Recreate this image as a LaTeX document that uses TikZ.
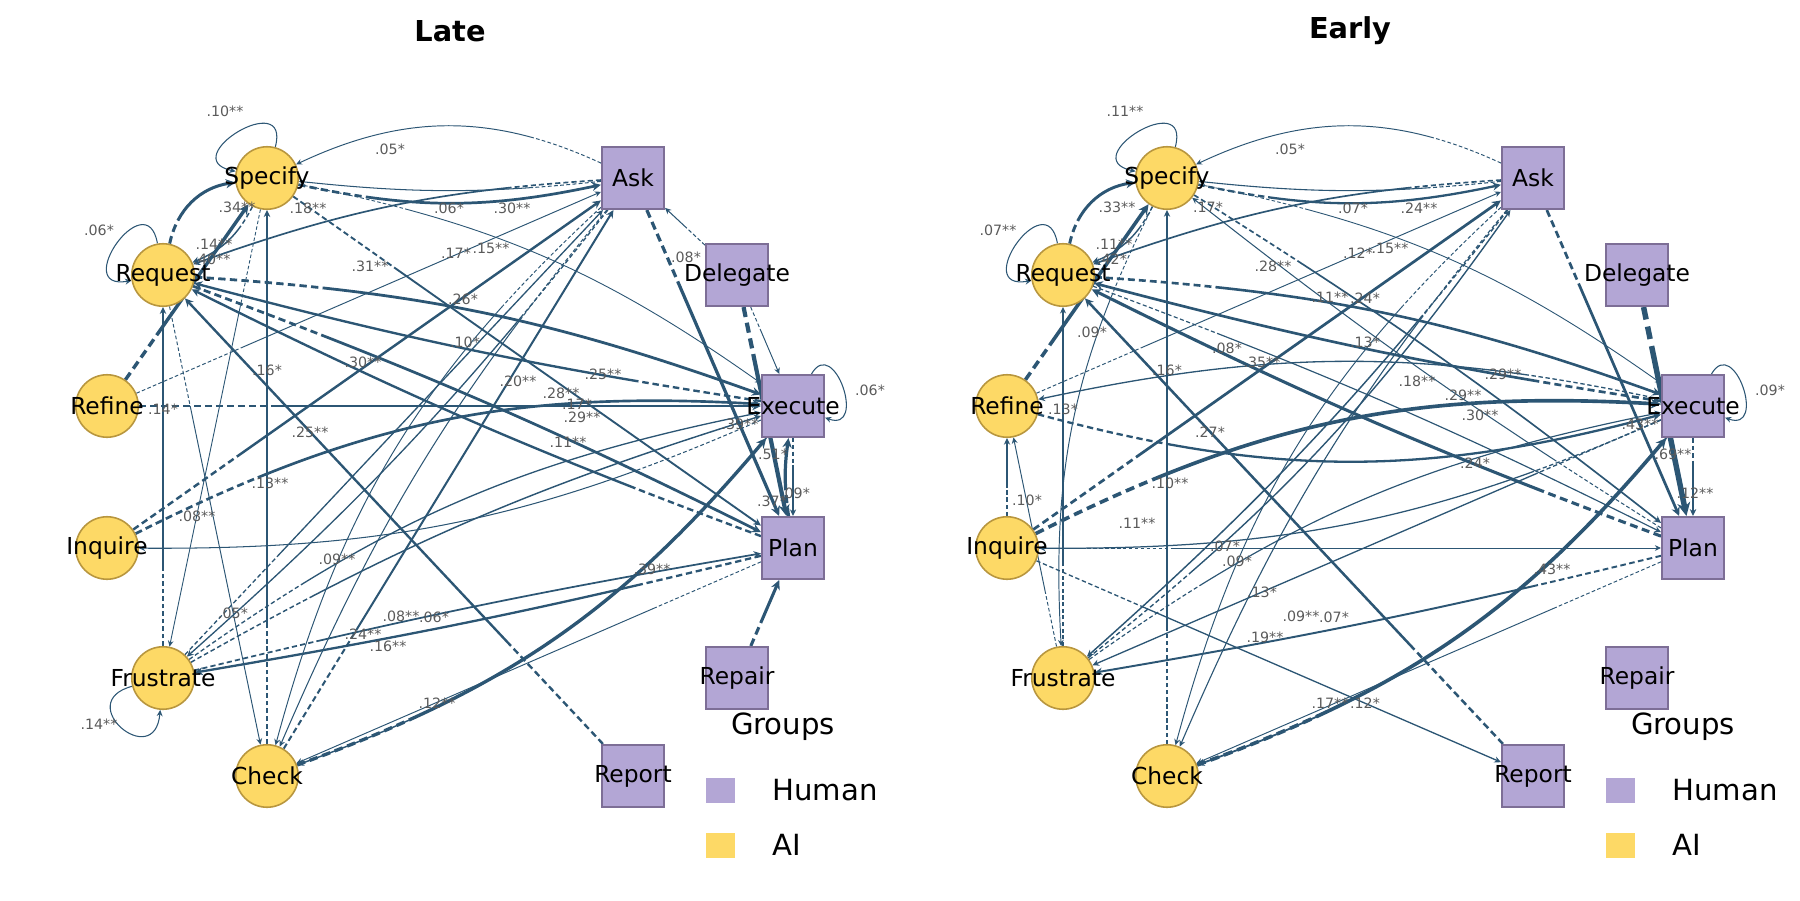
\documentclass[tikz,border=0pt]{standalone}
\usepackage{fontspec}
\setmainfont{DejaVu Sans}
\usetikzlibrary{arrows.meta,backgrounds}
\definecolor{ec}{RGB}{44,86,116}
\definecolor{aiF}{RGB}{253,217,102}
\definecolor{aiD}{RGB}{184,150,62}
\definecolor{huF}{RGB}{179,166,213}
\definecolor{huD}{RGB}{125,110,150}
\definecolor{labc}{RGB}{90,90,90}
\tikzset{
 aiN/.style={circle,fill=aiF,draw=aiD,line width=0.9pt,minimum size=1.25cm,inner sep=0pt},
 huN/.style={rectangle,fill=huF,draw=huD,line width=0.9pt,minimum size=1.25cm,inner sep=0pt},
 nlab/.style={font=\fontsize{13.3}{15}\selectfont,text=black,inner sep=0pt},
 econ/.style={draw=ec,-{Stealth[length=2.6pt 1.6,width=2.4pt 1.6]}},
 loopE/.style={econ,line width=0.6pt},
 lab/.style={text=labc,font=\fontsize{8.1}{9}\selectfont,inner sep=0pt},
 legT/.style={font=\fontsize{16.6}{19}\selectfont,inner sep=0pt},
 ttl/.style={font=\bfseries\fontsize{16.4}{19}\selectfont,inner sep=0pt},
}
\makeatletter
\newcommand\Edg[4]{%
 \pgfpointdiff{\pgfpointanchor{#1}{center}}{\pgfpointanchor{#2}{center}}%
 \pgfmathveclen{\pgf@x}{\pgf@y}\let\elen\pgfmathresult
 \pgfmathsetmacro\ew{0.35+4*#3}%
 \pgfmathsetmacro\don{1.0+2.0*\ew}%
 \pgfmathsetmacro\doff{0.7+1.1*\ew}%
 \pgfmathsetmacro\dlen{0.2*\elen}%
 \pgfmathtruncatemacro\dn{max(1,\dlen/(\don+\doff))}%
 \gdef\dpat{}%
 \foreach \i in {1,...,\dn}{\xdef\dpat{\dpat on \don pt off \doff pt }}%
 \edef\tmp{\noexpand\draw[econ,line width=\ew pt,dash pattern={\dpat on 3000pt off 1pt},#4] (#1) to (#2);}\tmp}
\makeatother
\newcommand\Lb[3]{\node[lab] (#1) at (#2) {#3};}
\begin{document}
\begin{tikzpicture}[x=0.02cm,y=-0.02cm]
\useasboundingbox (0,0) rectangle (1800,900);
% titles
\node[ttl] (TL) at (450,31) {Late};
\node[ttl] (TE) at (1350,31) {Early};
% ---------- Late nodes
\node[aiN,label={[nlab]center:Specify}] (LSp) at (267,178) {};
\node[aiN,label={[nlab]center:Request}] (LRq) at (163,275) {};
\node[aiN,label={[nlab]center:Refine}] (LRf) at (107,406) {};
\node[aiN,label={[nlab]center:Inquire}] (LIq) at (107,548) {};
\node[aiN,label={[nlab]center:Frustrate}] (LFr) at (163,678) {};
\node[aiN,label={[nlab]center:Check}] (LCk) at (267,776) {};
\node[huN,label={[nlab]center:Ask}] (LAk) at (633,178) {};
\node[huN,label={[nlab]center:Delegate}] (LDl) at (737,275) {};
\node[huN,label={[nlab]center:Execute}] (LEx) at (793,406) {};
\node[huN,label={[nlab]center:Plan}] (LPl) at (793,548) {};
\node[huN,label={[nlab]center:Repair}] (LRp) at (737,678) {};
\node[huN,label={[nlab]center:Report}] (LRt) at (633,776) {};
% ---------- Early nodes
\node[aiN,label={[nlab]center:Specify}] (ESp) at (1167,178) {};
\node[aiN,label={[nlab]center:Request}] (ERq) at (1063,275) {};
\node[aiN,label={[nlab]center:Refine}] (ERf) at (1007,406) {};
\node[aiN,label={[nlab]center:Inquire}] (EIq) at (1007,548) {};
\node[aiN,label={[nlab]center:Frustrate}] (EFr) at (1063,678) {};
\node[aiN,label={[nlab]center:Check}] (ECk) at (1167,776) {};
\node[huN,label={[nlab]center:Ask}] (EAk) at (1533,178) {};
\node[huN,label={[nlab]center:Delegate}] (EDl) at (1637,275) {};
\node[huN,label={[nlab]center:Execute}] (EEx) at (1693,406) {};
\node[huN,label={[nlab]center:Plan}] (EPl) at (1693,548) {};
\node[huN,label={[nlab]center:Repair}] (ERp) at (1637,678) {};
\node[huN,label={[nlab]center:Report}] (ERt) at (1533,776) {};
% ---------- legends
\node[legT] (LGg) at (783,727) {Groups};
\node[fill=huF,minimum width=0.58cm,minimum height=0.5cm,inner sep=0pt] (LGh) at (720,790) {};
\node[legT,anchor=west] (LGht) at (772,790) {Human};
\node[fill=aiF,minimum width=0.58cm,minimum height=0.5cm,inner sep=0pt] (LGa) at (720,845) {};
\node[legT,anchor=west] (LGat) at (772,845) {AI};
\node[legT] (EGg) at (1683,727) {Groups};
\node[fill=huF,minimum width=0.58cm,minimum height=0.5cm,inner sep=0pt] (EGh) at (1620,790) {};
\node[legT,anchor=west] (EGht) at (1672,790) {Human};
\node[fill=aiF,minimum width=0.58cm,minimum height=0.5cm,inner sep=0pt] (EGa) at (1620,845) {};
\node[legT,anchor=west] (EGat) at (1672,845) {AI};
\begin{pgfonlayer}{background}
% ---------- Late edges
\draw[loopE] (LSp) to[loop,out=75,in=168,min distance=1.25cm] (LSp);
\draw[loopE] (LRq) to[loop,out=100,in=190,min distance=1.25cm] (LRq);
\draw[loopE] (LFr) to[loop,out=195,in=265,min distance=1.25cm] (LFr);
\draw[loopE] (LEx) to[loop,out=60,in=-20,min distance=0.9cm] (LEx);
\Edg{LAk}{LSp}{.05}{bend right=25}
\Edg{LSp}{LAk}{.30}{bend right=12}
\Edg{LAk}{LSp}{.06}{bend left=6}
\Edg{LRq}{LSp}{.34}{bend left=35}
\Edg{LRf}{LSp}{.40}{}
\Edg{LSp}{LRq}{.12}{bend left=20}
\Edg{LAk}{LRq}{.15}{bend right=8}
\Edg{LRf}{LAk}{.05}{}
\Edg{LRq}{LEx}{.31}{bend left=8}
\Edg{LEx}{LRq}{.25}{bend left=3}
\Edg{LRq}{LPl}{.30}{bend left=3}
\Edg{LPl}{LRq}{.25}{bend left=3}
\Edg{LSp}{LPl}{.18}{}
\Edg{LSp}{LEx}{.04}{bend left=12}
\Edg{LIq}{LAk}{.26}{}
\Edg{LFr}{LAk}{.10}{}
\Edg{LCk}{LAk}{.20}{}
\Edg{LCk}{LSp}{.13}{}
\Edg{LRt}{LRq}{.25}{}
\Edg{LRf}{LEx}{.28}{}
\Edg{LIq}{LEx}{.29}{bend left=15}
\Edg{LEx}{LIq}{.06}{bend left=12}
\Edg{LFr}{LEx}{.10}{bend left=12}
\Edg{LFr}{LEx}{.12}{bend left=6}
\Edg{LCk}{LEx}{.39}{bend right=15}
\Edg{LEx}{LCk}{.12}{bend left=15}
\Edg{LRq}{LCk}{.05}{}
\Edg{LAk}{LCk}{.06}{bend right=8}
\Edg{LAk}{LCk}{.05}{bend right=16}
\Edg{LPl}{LFr}{.24}{bend left=2}
\Edg{LFr}{LPl}{.16}{bend left=2}
\Edg{LPl}{LCk}{.05}{}
\Edg{LAk}{LFr}{.10}{bend left=5}
\Edg{LSp}{LFr}{.04}{}
\Edg{LFr}{LRq}{.12}{}
\Edg{LDl}{LAk}{.06}{}
\Edg{LAk}{LPl}{.37}{}
\Edg{LDl}{LPl}{.51}{}
\Edg{LPl}{LEx}{.37}{bend left=8}
\Edg{LEx}{LPl}{.09}{}
\Edg{LRp}{LPl}{.35}{}
\Edg{LDl}{LEx}{.05}{}
% ---------- Early edges
\draw[loopE] (ESp) to[loop,out=75,in=168,min distance=1.25cm] (ESp);
\draw[loopE] (ERq) to[loop,out=100,in=190,min distance=1.25cm] (ERq);
\draw[loopE] (EEx) to[loop,out=60,in=-20,min distance=0.9cm] (EEx);
\Edg{EAk}{ESp}{.05}{bend right=25}
\Edg{ESp}{EAk}{.24}{bend right=12}
\Edg{EAk}{ESp}{.07}{bend left=6}
\Edg{ERq}{ESp}{.33}{bend left=35}
\Edg{ERf}{ESp}{.42}{}
\Edg{ESp}{ERq}{.11}{bend left=20}
\Edg{EAk}{ERq}{.15}{bend right=8}
\Edg{ERf}{EAk}{.05}{}
\Edg{ERq}{EEx}{.28}{bend left=8}
\Edg{EEx}{ERq}{.29}{bend left=3}
\Edg{ESp}{EPl}{.15}{bend left=3}
\Edg{EPl}{ESp}{.06}{bend left=3}
\Edg{EPl}{ERq}{.35}{bend left=3}
\Edg{ERq}{EPl}{.08}{bend left=3}
\Edg{ERt}{ERq}{.27}{}
\Edg{ECk}{ESp}{.10}{}
\Edg{EEx}{ERf}{.10}{bend right=12}
\Edg{ERf}{EEx}{.24}{bend right=15}
\Edg{EIq}{ERf}{.10}{}
\Edg{EIq}{EAk}{.30}{}
\Edg{EIq}{EEx}{.43}{bend left=15}
\Edg{EIq}{EPl}{.05}{}
\Edg{EEx}{EIq}{.09}{bend left=12}
\Edg{EIq}{ERt}{.10}{}
\Edg{EEx}{EFr}{.10}{}
\Edg{EPl}{EFr}{.19}{bend left=2}
\Edg{ECk}{EEx}{.43}{bend right=15}
\Edg{EEx}{ECk}{.17}{bend left=15}
\Edg{EAk}{ECk}{.07}{bend right=8}
\Edg{EAk}{ECk}{.05}{bend right=16}
\Edg{EFr}{EAk}{.11}{bend right=8}
\Edg{EAk}{EFr}{.12}{bend left=5}
\Edg{ESp}{EFr}{.05}{bend right=15}
\Edg{EFr}{ERq}{.08}{}
\Edg{EFr}{ERf}{.05}{}
\Edg{EDl}{EPl}{.69}{}
\Edg{EEx}{EPl}{.12}{}
\Edg{EAk}{EPl}{.30}{}
\Edg{EPl}{ECk}{.05}{}
\Edg{ESp}{EEx}{.04}{bend left=12}
\Edg{EFr}{EEx}{.08}{bend left=12}
\end{pgfonlayer}
% ---------- Late labels
\Lb{la1}{225,111}{.10**}
\Lb{la2}{390,149}{.05*}
\Lb{la3}{237,207}{.34**}
\Lb{la4}{308,208}{.18**}
\Lb{la5}{449,208}{.06*}
\Lb{la6}{512,208}{.30**}
\Lb{la7}{99,230}{.06*}
\Lb{la8}{214,244}{.14**}
\Lb{la9}{212,259}{.40**}
\Lb{la10}{456,253}{.17*}
\Lb{la11}{491,248}{.15**}
\Lb{la12}{370,266}{.31**}
\Lb{la13}{463,299}{.26*}
\Lb{la14}{686,257}{.08*}
\Lb{la15}{465,342}{.10*}
\Lb{la16}{267,370}{.16*}
\Lb{la17}{363,362}{.30**}
\Lb{la18}{163,409}{.14*}
\Lb{la19}{518,381}{.20**}
\Lb{la20}{603,374}{.25**}
\Lb{la21}{561,393}{.28**}
\Lb{la22}{577,404}{.17*}
\Lb{la23}{582,417}{.29**}
\Lb{la24}{740,424}{.39**}
\Lb{la25}{870,390}{.06*}
\Lb{la26}{310,432}{.25**}
\Lb{la27}{568,442}{.11**}
\Lb{la28}{270,483}{.13**}
\Lb{la29}{773,454}{.51*}
\Lb{la30}{197,516}{.08**}
\Lb{la31}{795,493}{.09*}
\Lb{la32}{772,501}{.37*}
\Lb{la33}{337,559}{.09**}
\Lb{la34}{652,569}{.39**}
\Lb{la35}{233,613}{.05*}
\Lb{la36}{401,616}{.08**}
\Lb{la37}{434,617}{.06*}
\Lb{la38}{363,634}{.24**}
\Lb{la39}{388,646}{.16**}
\Lb{la40}{99,724}{.14**}
\Lb{la41}{437,703}{.12**}
% ---------- Early labels
\Lb{lb1}{1125,111}{.11**}
\Lb{lb2}{1290,149}{.05*}
\Lb{lb3}{1117,207}{.33**}
\Lb{lb4}{1208,207}{.17*}
\Lb{lb5}{1353,208}{.07*}
\Lb{lb6}{1419,208}{.24**}
\Lb{lb7}{998,230}{.07**}
\Lb{lb8}{1114,244}{.11**}
\Lb{lb9}{1112,259}{.42*}
\Lb{lb10}{1358,253}{.12*}
\Lb{lb11}{1390,248}{.15**}
\Lb{lb12}{1273,266}{.28**}
\Lb{lb13}{1330,297}{.11**}
\Lb{lb14}{1365,298}{.24*}
\Lb{lb15}{1092,332}{.09*}
\Lb{lb16}{1227,348}{.08*}
\Lb{lb17}{1365,342}{.13*}
\Lb{lb18}{1167,370}{.16*}
\Lb{lb19}{1262,362}{.35**}
\Lb{lb20}{1063,409}{.13*}
\Lb{lb21}{1210,432}{.27*}
\Lb{lb22}{1170,483}{.10**}
\Lb{lb23}{1027,500}{.10*}
\Lb{lb24}{1137,523}{.11**}
\Lb{lb25}{1225,546}{.07*}
\Lb{lb26}{1237,561}{.09*}
\Lb{lb27}{1262,592}{.13*}
\Lb{lb28}{1301,616}{.09**}
\Lb{lb29}{1334,617}{.07*}
\Lb{lb30}{1265,637}{.19**}
\Lb{lb31}{1330,703}{.17**}
\Lb{lb32}{1365,703}{.12*}
\Lb{lb33}{1417,381}{.18**}
\Lb{lb34}{1503,374}{.29**}
\Lb{lb35}{1463,395}{.29**}
\Lb{lb36}{1480,415}{.30**}
\Lb{lb37}{1640,424}{.43**}
\Lb{lb38}{1475,463}{.24*}
\Lb{lb39}{1673,454}{.69**}
\Lb{lb40}{1695,493}{.12**}
\Lb{lb41}{1552,569}{.43**}
\Lb{lb42}{1770,390}{.09*}
\end{tikzpicture}
\end{document}
